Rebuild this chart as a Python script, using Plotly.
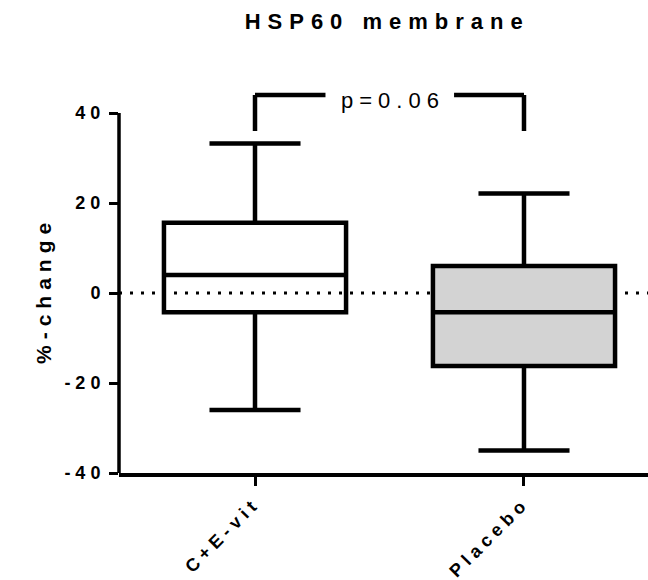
import plotly.graph_objects as go

# ---- data ----
categories = ["C+E-vit", "Placebo"]
upper_whisker = [33.2, 22.1]
q3_values = [15.6, 6.0]
medians = [4.0, -4.3]
q1_values = [-4.3, -16.2]
lower_whisker = [-26.0, -35.0]
fill_colors = ["rgba(0,0,0,0)", "#d3d3d3"]

y_ticks = [-40, -20, 0, 20, 40]
p_label = "p=0.06"
bracket_top = 44
bracket_bottom = 36

FONT = "Liberation Sans, Arial, sans-serif"

fig = go.Figure()
for i, cat in enumerate(categories):
    fig.add_trace(go.Box(
        x=[cat],
        q1=[q1_values[i]], median=[medians[i]], q3=[q3_values[i]],
        lowerfence=[lower_whisker[i]], upperfence=[upper_whisker[i]],
        fillcolor=fill_colors[i],
        line=dict(color="black", width=4.5),
        width=0.677, whiskerwidth=0.5,
        boxpoints=False, showlegend=False, hoverinfo="skip",
    ))

# zero reference line (dotted, behind boxes)
fig.add_shape(type="line", xref="paper", yref="y", x0=0, x1=1, y0=0, y1=0,
              line=dict(color="black", width=3, dash="3px,8px"), layer="below")

# y axis line drawn only over the tick range
fig.add_shape(type="line", xref="paper", yref="y", x0=0, x1=0,
              y0=y_ticks[0], y1=y_ticks[-1],
              line=dict(color="black", width=3.5), layer="above")

# significance bracket
lw = 4.5
fig.add_shape(type="line", xref="x", yref="y", x0=0, x1=0, y0=bracket_bottom, y1=bracket_top,
              line=dict(color="black", width=lw))
fig.add_shape(type="line", xref="x", yref="y", x0=0, x1=0.262, y0=bracket_top, y1=bracket_top,
              line=dict(color="black", width=lw))
fig.add_shape(type="line", xref="x", yref="y", x0=0.74, x1=1, y0=bracket_top, y1=bracket_top,
              line=dict(color="black", width=lw))
fig.add_shape(type="line", xref="x", yref="y", x0=1, x1=1, y0=bracket_bottom, y1=bracket_top,
              line=dict(color="black", width=lw))
fig.add_annotation(x=0.5, y=bracket_top, xref="x", yref="y", text=p_label,
                   showarrow=False, xanchor="center", yanchor="middle", yshift=-5, xshift=3,
                   font=dict(family=FONT, size=22, color="black"))

# y axis title
fig.add_annotation(x=0, xref="paper", y=0, yref="y", xshift=-76, yshift=2, text="<b>%-change</b>",
                   textangle=-90, showarrow=False, xanchor="center", yanchor="middle",
                   font=dict(family=FONT, size=21, color="black"))

fig.update_layout(
    width=648, height=580,
    margin=dict(l=119, r=0, t=86, b=107),
    paper_bgcolor="white", plot_bgcolor="white",
    title=dict(text="<b>HSP60 membrane</b>", x=0.507, xref="paper", xanchor="center",
               y=1 - 21.5 / 580, yref="container", yanchor="middle",
               font=dict(family=FONT, size=22, color="black")),
    xaxis=dict(type="category", range=[-0.5056, 1.461], showgrid=False, zeroline=False,
               showline=True, linecolor="black", linewidth=3.5,
               ticks="outside", ticklen=9, tickwidth=3, tickcolor="black",
               tickangle=-45, tickfont=dict(family=FONT, size=18, color="black", weight="bold")),
    yaxis=dict(range=[-40, 46], showgrid=False, zeroline=False, showline=False,
               tickmode="array", tickvals=y_ticks, ticktext=[str(v) for v in y_ticks],
               ticks="outside", ticklen=9, tickwidth=3, tickcolor="black",
               tickfont=dict(family=FONT, size=18, color="black", weight="bold")),
)

# page margin removal and the wide letter spacing of the original (styling only)
post = """
document.body.style.margin = '0';
document.body.style.overflow = 'hidden';
var gd = document.getElementById('{plot_id}');
function spaceText(sel, sp) {
  gd.querySelectorAll(sel).forEach(function(t){ t.style.letterSpacing = sp; });
}
spaceText('.gtitle', '7px');
spaceText('.xtick text', '5px');
spaceText('.ytick text', '5px');
spaceText('.annotation-text', '6px');
"""

fig.write_html("out.html", post_script=post, config={"displayModeBar": False})
